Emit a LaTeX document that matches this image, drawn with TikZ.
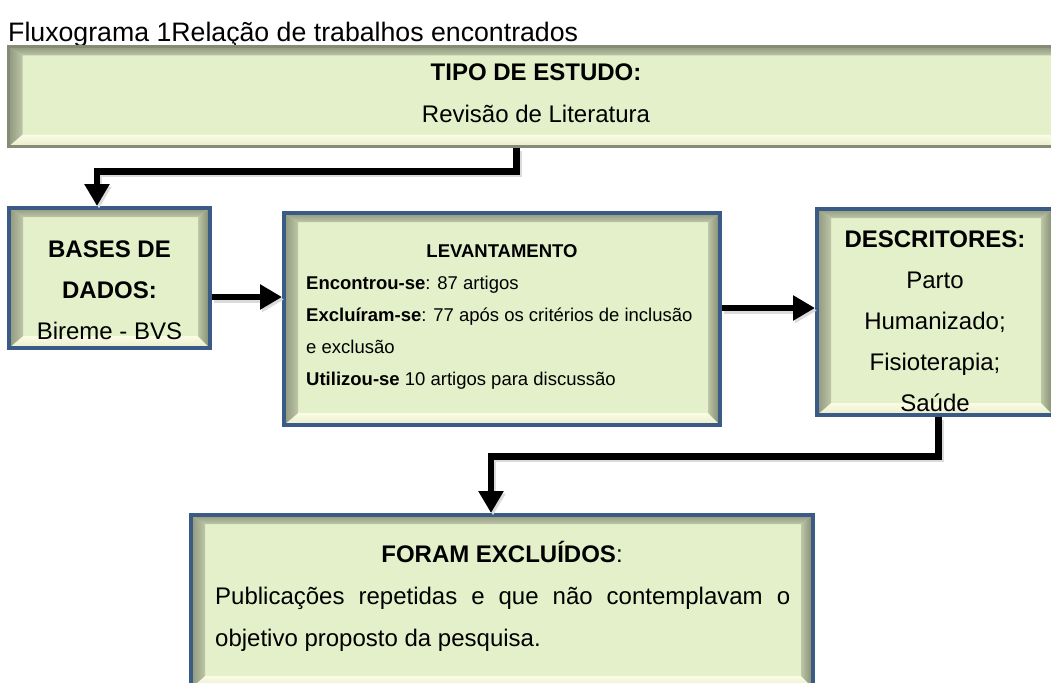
\documentclass[tikz,border=0pt]{standalone}
\usepackage{fontspec}
\setmainfont{Liberation Sans}
\usetikzlibrary{arrows.meta,calc}
\definecolor{boxfill}{HTML}{E3F0C9}
\definecolor{boxblue}{HTML}{3A5B85}
\definecolor{boxgray}{HTML}{858C76}
\definecolor{bvA}{HTML}{8E967C}
\definecolor{bvB}{HTML}{BEC6A8}
\definecolor{bvR}{HTML}{7F876E}
\definecolor{bvC}{HTML}{FAFCE4}
\definecolor{bvD}{HTML}{E8EDCB}
\newcommand\mybevel{%
 \path (path picture bounding box.south west) coordinate (bsw)
       (path picture bounding box.north east) coordinate (bne);
 \path (bsw |- bne) coordinate (bnw) (bne |- bsw) coordinate (bse);
 \shade[top color=bvA, bottom color=bvB] (bnw) -- (bne) -- ($(bne)+(-12pt,-9pt)$) -- ($(bnw)+(14pt,-9pt)$) -- cycle;
 \shade[top color=bvC, bottom color=bvD] ($(bsw)+(14pt,12pt)$) -- ($(bse)+(-12pt,12pt)$) -- (bse) -- (bsw) -- cycle;
 \shade[left color=bvA, right color=bvB] (bsw) -- (bnw) -- ($(bnw)+(14pt,-9pt)$) -- ($(bsw)+(14pt,12pt)$) -- cycle;
 \shade[left color=bvB, right color=bvR] (bse) -- (bne) -- ($(bne)+(-12pt,-9pt)$) -- ($(bse)+(-12pt,12pt)$) -- cycle;
}
\newcommand\fl[1]{\rule{0pt}{#1}}
\begin{document}
\begin{tikzpicture}[x=1pt,y=-1pt,
  box/.style={rectangle, draw=boxblue, line width=4pt, fill=boxfill, inner sep=0pt,
              path picture={\mybevel}},
  txt/.style={inner sep=0pt, font=\fontsize{24}{41}\selectfont},
  smalltxt/.style={inner sep=0pt, font=\fontsize{18.5}{32}\selectfont},
  conn/.style={line width=6.5pt, line join=miter, -{Triangle[width=24pt,length=22pt]},
               preaction={draw=black!14, line width=6.5pt, transform canvas={shift={(2pt,-2.5pt)}}}}]
\useasboundingbox (0,0) rectangle (1051,682);
\clip (0,0) rectangle (1051,682);

% caption
\node[inner sep=0pt, anchor=base west, font=\fontsize{26.7}{32}\selectfont] (cap) at (8,41.5)
  {Fluxograma 1Relação de trabalhos encontrados};

% boxes
\node[box, draw=boxgray, line width=3pt, minimum width=1055pt, minimum height=100pt] (top) at (536,96.5) {};
\node[box, minimum width=201pt, minimum height=140pt] (bases) at (109.5,278) {};
\node[box, minimum width=436pt, minimum height=212pt] (lev) at (502,319) {};
\node[box, minimum width=236pt, minimum height=206pt] (desc) at (935,312) {};
\node[box, minimum width=622pt, minimum height=173pt] (foram) at (502,601.5) {};

% texts
\node[txt, font=\fontsize{24}{42}\selectfont, align=center, anchor=north] (topt) at (536,58)
  {\fl{22pt}\bfseries TIPO DE ESTUDO:\\Revisão de Literatura};
\node[txt, align=center, anchor=north] (basest) at (109.5,235.5)
  {\fl{22pt}\bfseries BASES DE\\\bfseries DADOS:\\Bireme - BVS};
\node[smalltxt, anchor=base] (levt) at (502,257) {\bfseries LEVANTAMENTO};
\node[smalltxt, align=left, anchor=north west] (levb) at (306,272)
  {\fl{17pt}\textbf{Encontrou-se}: 87 artigos\\
   \textbf{Excluíram-se}: 77 após os critérios de inclusão\\
   e exclusão\\
   \textbf{Utilizou-se} 10 artigos para discussão};
\node[txt, align=center, anchor=north] (desct) at (935,225)
  {\fl{22pt}\bfseries DESCRITORES:\\Parto\\Humanizado;\\Fisioterapia;\\Saúde};
\node[txt, anchor=base] (foramt) at (502,562) {\textbf{FORAM EXCLUÍDOS}:};
\node[txt, font=\fontsize{24}{42}\selectfont, align=left, anchor=north west] (foramb) at (215,582)
  {\fl{22pt}\makebox[575pt][s]{Publicações repetidas e que não contemplavam o}\\
   objetivo proposto da pesquisa.};

% connectors
\coordinate (k1) at (516.5,171.5);
\coordinate (k2) at (97,171.5);
\draw[conn] (k1 |- top.south) -- (k1) -- (k2) -- (k2 |- bases.north);
\coordinate (k3) at (0,297);
\draw[conn] (bases.east |- k3) -- (lev.west |- k3);
\coordinate (k4) at (0,308);
\draw[conn] (lev.east |- k4) -- (desc.west |- k4);
\coordinate (k5) at (938.5,456.5);
\coordinate (k6) at (491,456.5);
\draw[conn] (k5 |- desc.south) -- (k5) -- (k6) -- (k6 |- foram.north);
\end{tikzpicture}
\end{document}
